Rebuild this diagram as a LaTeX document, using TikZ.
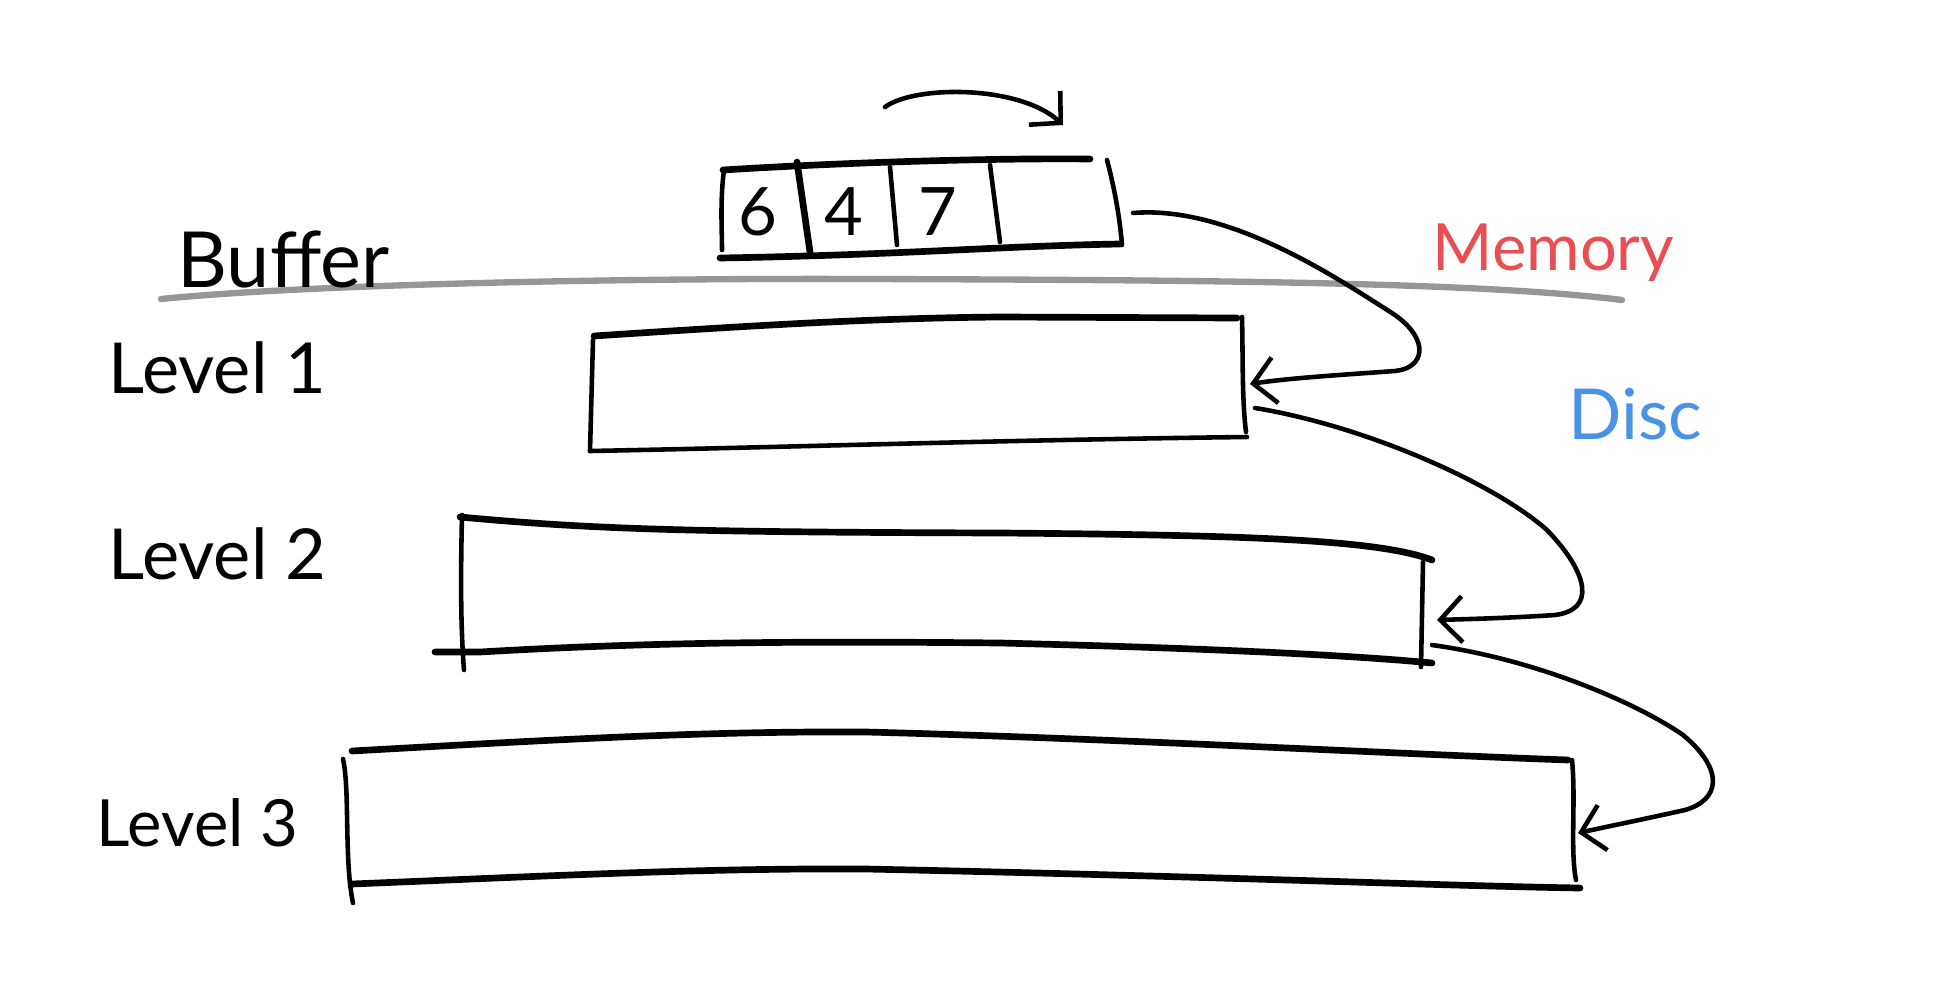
\documentclass[tikz,border=0pt]{standalone}
\usepackage{fontspec}
\setmainfont{Lato}
\usetikzlibrary{arrows.meta}
\definecolor{memred}{RGB}{232,78,82}
\definecolor{discblue}{RGB}{74,146,228}
\definecolor{sepgray}{RGB}{150,150,150}
\tikzset{
  ink/.style={line width=1.3pt, line cap=round, line join=round, black},
  inkthick/.style={line width=1.9pt, line cap=round, black},
  flow/.style={line width=1.3pt, line cap=round, -{Straight Barb[length=2.2mm,width=4.6mm,line width=1.3pt]}},
  lbl/.style={anchor=base west, inner sep=0pt, font=\fontsize{20}{24}\selectfont},
  digit/.style={anchor=center, inner sep=0pt, font=\fontsize{19}{22}\selectfont}
}
\begin{document}
\begin{tikzpicture}[x=0.01cm, y=-0.01cm]
\useasboundingbox (0,0) rectangle (1939,1000);

% separator line
\draw[sepgray, line width=1.8pt, line cap=round] (161,299) .. controls (300,285) and (600,278) .. (866,279) .. controls (1200,280) and (1480,282) .. (1622,300);

% labels
\node[lbl, font=\fontsize{22}{26}\selectfont] (buflbl) at (177,287) {Buffer};
\node[lbl, text=memred, font=\fontsize{18.5}{22}\selectfont] (memlbl) at (1432,270) {Memory};
\node[lbl, text=discblue] (disclbl) at (1568,439) {Disc};
\node[lbl] (l1lbl) at (108,393) {Level 1};
\node[lbl] (l2lbl) at (108,579) {Level 2};
\node[lbl, font=\fontsize{18.5}{22}\selectfont] (l3lbl) at (96,846) {Level 3};

% buffer array
\draw[inkthick] (723,170) .. controls (850,162) and (1000,158) .. (1090,159);
\draw[ink] (1107,160) .. controls (1115,190) and (1120,220) .. (1122,245);
\draw[inkthick] (720,258) .. controls (900,255) and (1000,246) .. (1120,244);
\draw[ink] (724,170) .. controls (720,200) and (722,230) .. (722,250);
\draw[inkthick] (797,162) -- (810,252);
\draw[ink] (890,167) -- (897,245);
\draw[ink] (990,165) -- (1000,242);
\node[digit] (d6) at (758,212) {6};
\node[digit] (d4) at (844,212) {4};
\node[digit] (d7) at (938,212) {7};
\coordinate (bufout) at (1133,213);
\coordinate (rotA) at (885,107);
\coordinate (rotB) at (1063,125);

% level 1
\draw[inkthick] (594,336) .. controls (760,325) and (880,318) .. (1000,317) -- (1237,318);
\draw[ink] (1242,317) .. controls (1243,360) and (1242,400) .. (1246,432);
\draw[ink] (590,451) .. controls (800,447) and (1000,440) .. (1247,437);
\draw[ink] (593,340) -- (590,451);
\coordinate (l1in) at (1250,384);
\coordinate (l1out) at (1255,408);

% level 2
\draw[inkthick] (460,517) .. controls (600,530) and (700,532) .. (1000,533) .. controls (1250,535) and (1380,540) .. (1432,560);
\draw[ink] (1423,562) -- (1421,667);
\draw[inkthick] (435,652) -- (480,652) .. controls (650,642) and (800,641) .. (1000,643) .. controls (1200,648) and (1350,655) .. (1432,663);
\draw[ink] (462,515) .. controls (461,560) and (460,620) .. (464,670);
\coordinate (l2in) at (1437,620);
\coordinate (l2out) at (1432,645);

% level 3
\draw[inkthick] (352,751) .. controls (550,740) and (700,731) .. (866,732) .. controls (1100,738) and (1400,754) .. (1568,760);
\draw[ink] (1572,760) .. controls (1576,800) and (1570,850) .. (1576,880);
\draw[inkthick] (352,884) .. controls (550,876) and (700,868) .. (866,869) .. controls (1200,876) and (1450,886) .. (1580,888);
\draw[ink] (343,759) .. controls (350,790) and (344,860) .. (353,903);
\coordinate (l3in) at (1578,833);

% connectors
\draw[flow] (rotA) .. controls (915,85) and (1020,85) .. (rotB);
\draw[flow] (bufout) .. controls (1230,205) and (1340,280) .. (1395,315) .. controls (1430,340) and (1425,368) .. (1395,371) .. controls (1340,375) and (1290,378) .. (l1in);
\draw[flow] (l1out) .. controls (1360,425) and (1490,480) .. (1547,530) .. controls (1590,575) and (1595,610) .. (1555,615) .. controls (1510,618) and (1470,619) .. (l2in);
\draw[flow] (l2out) .. controls (1540,660) and (1640,705) .. (1683,735) .. controls (1725,770) and (1720,800) .. (1685,810) .. controls (1640,820) and (1610,826) .. (l3in);
\end{tikzpicture}
\end{document}
